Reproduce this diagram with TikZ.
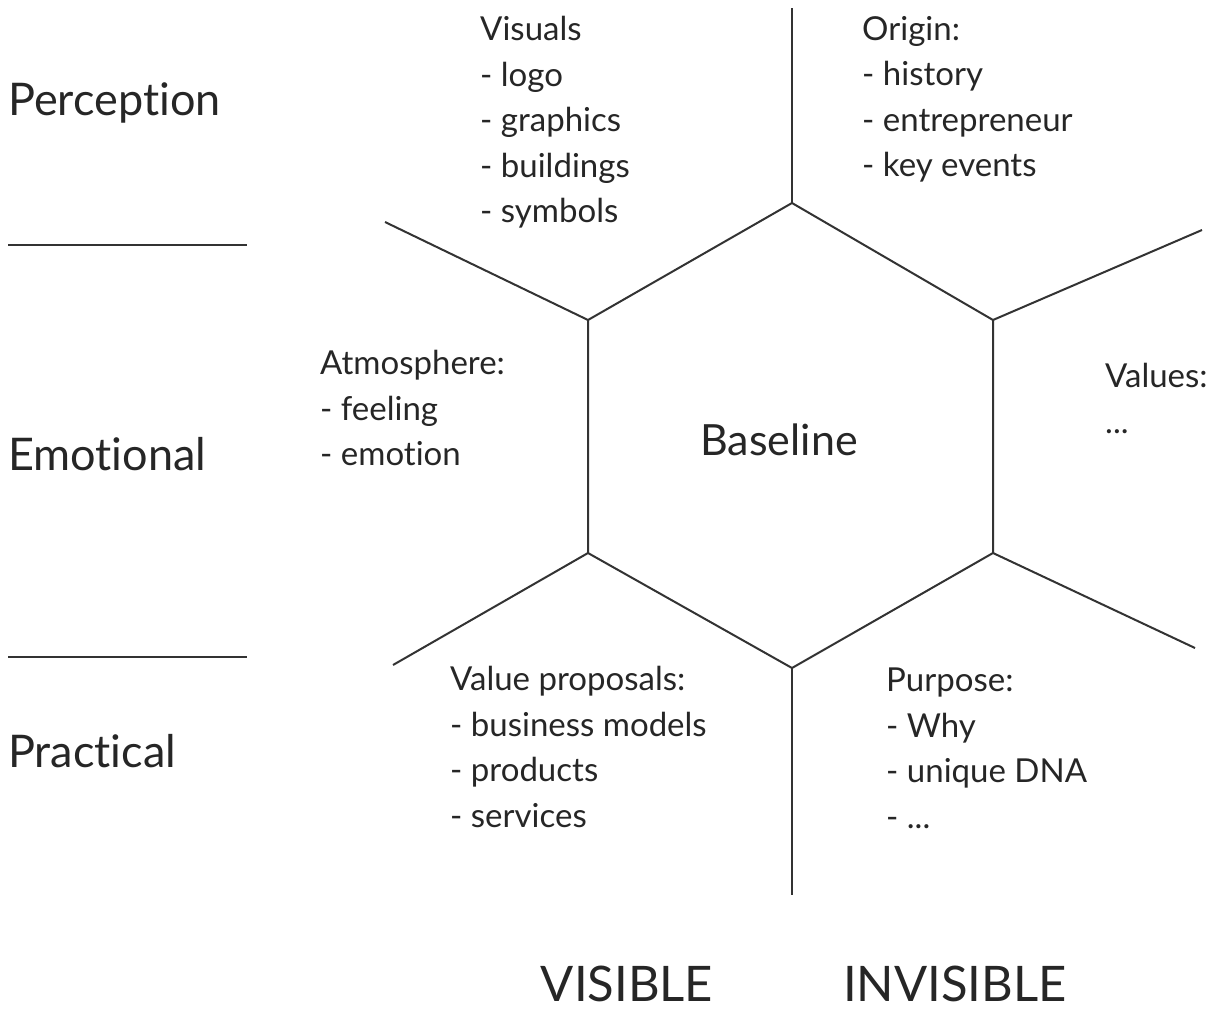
\documentclass[tikz,border=0pt]{standalone}
\usepackage{fontspec}
\setmainfont{Lato}[Ligatures=NoCommon]
\begin{document}
\begin{tikzpicture}[x=1pt,y=-1pt,
  edge/.style={draw=black!80, line width=2pt},
  body/.style={anchor=north west, inner sep=0pt, align=left, font=\fontsize{33}{45.5}\selectfont, text=black!85},
  side/.style={anchor=west, inner sep=0pt, font=\fontsize{45}{50}\selectfont, text=black!85},
  foot/.style={anchor=base, inner sep=0pt, font=\fontsize{49}{52}\selectfont, text=black!85},
  rule/.style={draw=black!80, line width=2pt}]
\useasboundingbox (0,0) rectangle (1226,1010);
% hexagon corners
\coordinate (T) at (792,203);
\coordinate (UR) at (993,320);
\coordinate (LR) at (993,553);
\coordinate (B) at (792,668);
\coordinate (LL) at (588,553);
\coordinate (UL) at (588,320);
% spoke ends
\coordinate (Te) at (792,8);
\coordinate (URe) at (1202,230);
\coordinate (LRe) at (1195,648);
\coordinate (Be) at (792,895);
\coordinate (LLe) at (393,665);
\coordinate (ULe) at (385,222);
\draw[edge] (T) -- (UR) -- (LR) -- (B) -- (LL) -- (UL) -- cycle;
\draw[edge] (T) -- (Te);
\draw[edge] (UR) -- (URe);
\draw[edge] (LR) -- (LRe);
\draw[edge] (B) -- (Be);
\draw[edge] (LL) -- (LLe);
\draw[edge] (UL) -- (ULe);
% left rules
\coordinate (r1a) at (8,245); \coordinate (r1b) at (247,245);
\coordinate (r2a) at (8,657); \coordinate (r2b) at (247,657);
\draw[rule] (r1a) -- (r1b);
\draw[rule] (r2a) -- (r2b);
% side labels
\node[side] (perc) at (8,103) {Perception};
\node[side] (emo) at (8,454) {Emotional};
\node[side] (prac) at (8,751) {Practical};
% center
\node[inner sep=0pt, font=\fontsize{43}{48}\selectfont, text=black!85] (base) at (779,440) {Baseline};
% blocks
\node[body] (vis) at (480,16) {Visuals\\- logo\\- graphics\\- buildings\\- symbols};
\node[body] (ori) at (862,16) {Origin:\\- history\\- entrepreneur\\- key events};
\node[body] (atm) at (320,350) {Atmosphere:\\- feeling\\- emotion};
\node[body] (val) at (1105,363) {Values:\\...};
\node[body] (vp) at (450,666) {Value proposals:\\- business models\\- products\\- services};
\node[body] (pur) at (886,668) {Purpose:\\- Why\\- unique DNA\\- ...};
% footer
\node[foot] (visible) at (627,1001) {VISIBLE};
\node[foot] (invisible) at (955,1001) {INVISIBLE};
\end{tikzpicture}
\end{document}
